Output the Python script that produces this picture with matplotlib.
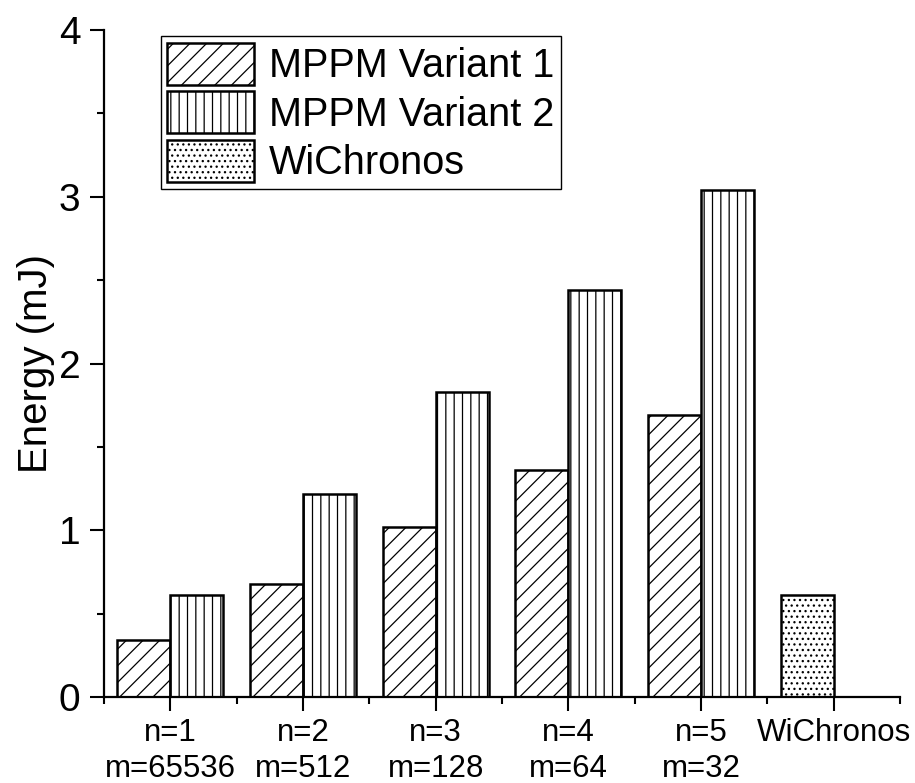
import numpy as np
import matplotlib
matplotlib.use("Agg")
import matplotlib.pyplot as plt
from matplotlib.ticker import MultipleLocator, FixedLocator

plt.rcParams['font.family'] = ['Liberation Sans', 'DejaVu Sans']
plt.rcParams['hatch.linewidth'] = 0.9

# Energy per configuration (mJ)
categories = ["n=1\nm=65536", "n=2\nm=512", "n=3\nm=128",
              "n=4\nm=64", "n=5\nm=32", "WiChronos"]
mppm_v1 = [0.34, 0.68, 1.02, 1.36, 1.69]
mppm_v2 = [0.61, 1.22, 1.83, 2.44, 3.04]
wichronos = [0.61]

x = np.arange(1, len(categories) + 1)
w = 0.4

fig = plt.figure(figsize=(9.15, 7.83), dpi=100)
ax = fig.add_axes([0.1137, 0.1098, 0.8699, 0.8519])

style = dict(width=w, align='edge', facecolor='white', edgecolor='black', linewidth=1.8)
ax.bar(x[:5] - w, mppm_v1, hatch='//', label='MPPM Variant 1', **style)
ax.bar(x[:5], mppm_v2, hatch='||', label='MPPM Variant 2', **style)
ax.bar(x[5:] - w, wichronos, hatch='...', label='WiChronos', **style)

ax.set_xlim(0.5, 6.5)
ax.set_ylim(0, 4)
ax.set_xticks(x)
ax.set_xticklabels(categories, fontsize=22.5, linespacing=1.25)
ax.xaxis.set_minor_locator(FixedLocator(np.arange(0.5, 7, 1.0)))
ax.yaxis.set_major_locator(MultipleLocator(1))
ax.yaxis.set_minor_locator(MultipleLocator(0.5))
ax.tick_params(axis='y', which='major', labelsize=28, length=10, width=1.5, pad=7)
ax.tick_params(axis='x', which='major', length=10, width=1.5, pad=5)
ax.tick_params(which='minor', length=5, width=1.5)

for side in ('top', 'right'):
    ax.spines[side].set_visible(False)
for side in ('left', 'bottom'):
    ax.spines[side].set_linewidth(1.6)

ax.set_ylabel('Energy (mJ)', fontsize=29, labelpad=3)

leg = ax.legend(loc='upper left', bbox_to_anchor=(0.071, 0.991), borderaxespad=0,
                fontsize=28.5, fancybox=False, edgecolor='black', framealpha=1,
                handlelength=2.2, handleheight=1.255, labelspacing=0.16,
                handletextpad=0.36, borderpad=0.17)
leg.get_frame().set_linewidth(1.0)

fig.savefig('out.png', dpi=100)
